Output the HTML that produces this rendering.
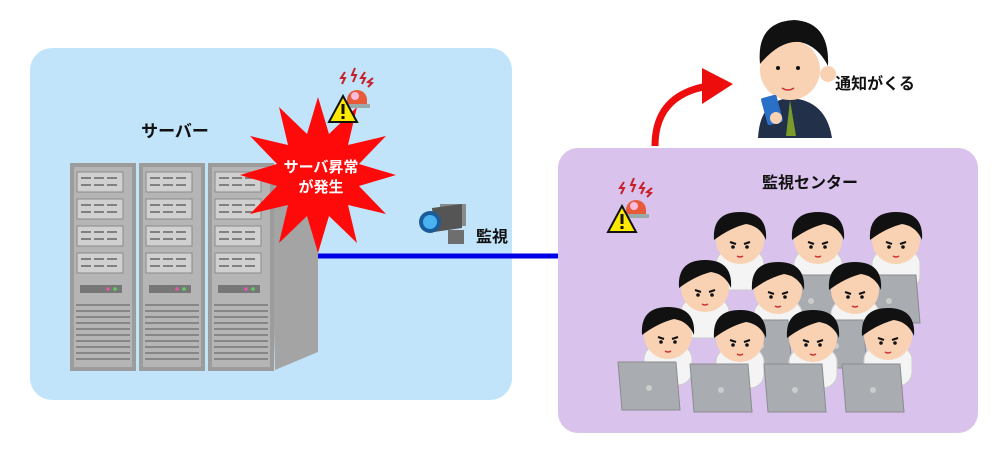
<!DOCTYPE html>
<html><head><meta charset="utf-8"><style>
html,body{margin:0;padding:0;background:#fff;}
svg{display:block}
text{font-family:"Liberation Sans","Noto Sans CJK JP",sans-serif;font-weight:bold;}
</style></head><body>
<svg width="1000" height="450" viewBox="0 0 1000 450" xmlns="http://www.w3.org/2000/svg">
<defs>
<g id="rack">
 <rect x="0" y="0" width="66" height="208" fill="#9c9c9c"/>
 <rect x="4" y="4" width="58" height="200" fill="#b5b5b5"/>
 <g fill="#d0d0d0" stroke="#8a8a8a" stroke-width="1">
  <rect x="7" y="9" width="46" height="20"/><rect x="7" y="36" width="46" height="20"/>
  <rect x="7" y="63" width="46" height="20"/><rect x="7" y="90" width="46" height="20"/>
 </g>
 <g stroke="#666" stroke-width="1.5">
  <path d="M11 15h10M24 15h10M37 15h10M11 22h10M24 22h10M37 22h10"/>
  <path d="M11 42h10M24 42h10M37 42h10M11 49h10M24 49h10M37 49h10"/>
  <path d="M11 69h10M24 69h10M37 69h10M11 76h10M24 76h10M37 76h10"/>
  <path d="M11 96h10M24 96h10M37 96h10M11 103h10M24 103h10M37 103h10"/>
 </g>
 <rect x="10" y="122" width="42" height="8" fill="#777"/>
 <circle cx="38" cy="126" r="1.8" fill="#e05aa8"/><circle cx="45" cy="126" r="1.8" fill="#5ccf5c"/>
 <g stroke="#777" stroke-width="1.5">
  <path d="M6 142h54M6 148h54M6 154h54M6 160h54M6 166h54M6 172h54M6 178h54M6 184h54M6 190h54M6 196h54"/>
 </g>
</g>
<g id="p">
 <rect x="-24" y="10" width="48" height="40" rx="14" fill="#f4f4f4" stroke="#ccc"/>
 <circle cx="0" cy="0" r="24" fill="#f9d2b4"/>
 <path d="M-26 0 Q-28 -28 0 -28 Q28 -28 26 0 Q20 -14 6 -16 Q-10 -12 -26 0Z" fill="#111"/>
 <path d="M-10 2l6 2M10 2l-6 2" stroke="#111" stroke-width="2"/>
 <circle cx="-7" cy="7" r="1.8" fill="#111"/><circle cx="7" cy="7" r="1.8" fill="#111"/>
 <path d="M-3 16 q3 2 6 0" stroke="#c33" stroke-width="1.5" fill="none"/>
</g>
<g id="lap">
 <path d="M0 0 L58 0 L62 48 L4 48Z" fill="#a9acb0" stroke="#8a8d90"/>
 <circle cx="31" cy="26" r="3" fill="#ccc"/>
</g>
<g id="alarm">
 <path d="M12 -18l-4 6 4 0-3 6M22 -22l-3 7 4 0-3 7M32 -18l-4 6 4 0-3 6M40 -12l-5 4 4 1-4 4" stroke="#c8202a" stroke-width="2" fill="none"/>
 <path d="M14 10 a10 10 0 0 1 20 0 v4 h-20z" fill="#e85b3a"/>
 <circle cx="22" cy="6" r="4" fill="#fbd"/>
 <rect x="11" y="14" width="26" height="4" fill="#9aa"/>
 <path d="M10 6 L-4 32 L24 32Z" fill="#fde800" stroke="#111" stroke-width="2"/>
 <rect x="8.5" y="14" width="3" height="10" fill="#111"/><rect x="8.5" y="26" width="3" height="3" fill="#111"/>
</g>
</defs>

<rect x="30" y="48" width="482" height="352" rx="22" fill="#c2e4fb"/>
<rect x="558" y="148" width="420" height="285" rx="20" fill="#d9c2ec"/>

<line x1="315" y1="256" x2="558" y2="256" stroke="#0000e6" stroke-width="5"/>

<!-- servers -->
<path d="M270 163 L305 175 L318 185 L318 352 L275 370 Z" fill="#a4a4a4"/>
<use href="#rack" x="70" y="163"/>
<use href="#rack" x="139" y="163"/>
<use href="#rack" x="208" y="163"/>

<text x="175" y="137" font-size="17" text-anchor="middle" fill="#111">サーバー</text>

<polygon points="396,175 359,186 386,214 348,205 357,243 329,216 318,253 307,216 279,243 288,205 250,214 277,186 240,175 277,164 250,136 288,145 279,107 307,134 318,97 329,134 357,107 348,145 386,136 359,164" fill="#ff0a0a"/>
<text x="321" y="172" font-size="15" text-anchor="middle" fill="#fff">サーバ昇常</text>
<text x="321" y="192" font-size="15" text-anchor="middle" fill="#fff">が発生</text>
<use href="#alarm" x="333" y="90"/>

<!-- camera -->
<g>
 <rect x="440" y="204" width="26" height="22" fill="#8a8a8a"/>
 <path d="M432 208 L462 204 L462 228 L434 232Z" fill="#555"/>
 <circle cx="430" cy="222" r="11" fill="#1a5c9a"/><circle cx="430" cy="222" r="7" fill="#4ab2f0"/>
 <rect x="448" y="230" width="16" height="14" fill="#6e6e6e"/>
</g>
<text x="476" y="242" font-size="16" fill="#111">監視</text>

<!-- arrow -->
<path d="M655 146 Q655 95 708 86" stroke="#ee0d0d" stroke-width="7" fill="none"/>
<polygon points="702,68 733,84 702,104" fill="#ee0d0d"/>

<!-- notified person -->
<g>
 <path d="M758 138 Q760 100 790 98 Q826 100 832 138Z" fill="#22304a"/>
 <path d="M790 100 L786 136 L796 136Z" fill="#7a9a2a"/>
 <circle cx="790" cy="70" r="30" fill="#f9d2b4"/>
 <circle cx="828" cy="74" r="8" fill="#f9d2b4"/>
 <path d="M760 64 Q756 22 794 20 Q830 22 828 66 Q818 46 800 42 Q780 40 760 64Z" fill="#111"/>
 <circle cx="778" cy="68" r="2" fill="#111"/><circle cx="798" cy="68" r="2" fill="#111"/>
 <path d="M782 88 q6 4 12 0" stroke="#c33" stroke-width="1.5" fill="none"/>
 <rect x="764" y="96" width="16" height="28" rx="2" fill="#2a6fc8" transform="rotate(-15 772 110)"/>
 <circle cx="776" cy="118" r="6" fill="#f9d2b4"/>
</g>
<text x="875" y="89" font-size="16" text-anchor="middle" fill="#111">通知がくる</text>

<text x="810" y="188" font-size="16" text-anchor="middle" fill="#111">監視センター</text>
<use href="#alarm" x="612" y="200"/>

<!-- workers -->
<use href="#p" x="740" y="240"/><use href="#p" x="818" y="240"/><use href="#p" x="896" y="240"/>
<use href="#lap" x="780" y="275"/><use href="#lap" x="858" y="275"/>
<use href="#p" x="705" y="288"/><use href="#p" x="778" y="290"/><use href="#p" x="855" y="290"/>
<use href="#lap" x="730" y="320"/><use href="#lap" x="805" y="320"/>
<use href="#p" x="668" y="335"/><use href="#p" x="740" y="338"/><use href="#p" x="813" y="338"/><use href="#p" x="888" y="336"/>
<use href="#lap" x="618" y="362"/><use href="#lap" x="690" y="364"/><use href="#lap" x="764" y="364"/><use href="#lap" x="842" y="364"/>
</svg>
</body></html>
